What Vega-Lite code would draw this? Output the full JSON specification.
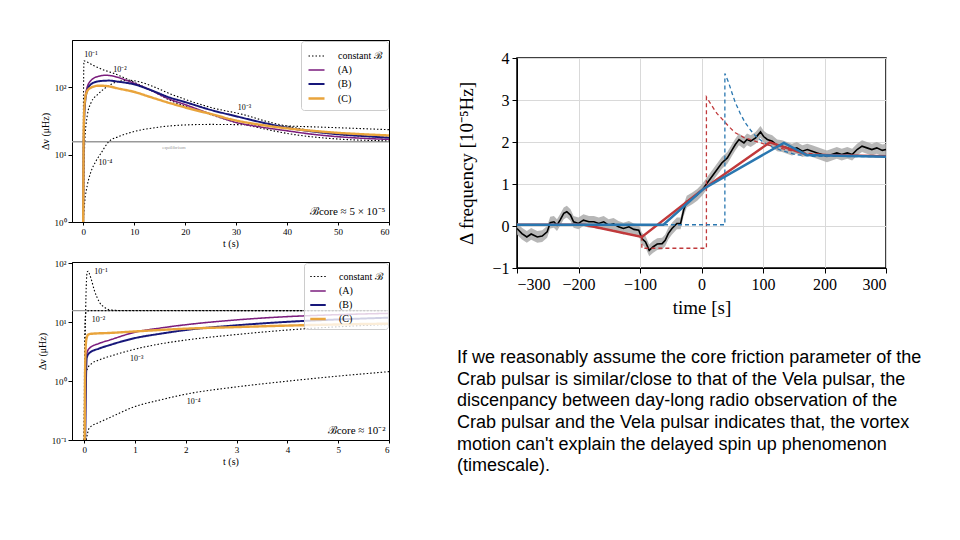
{
  "$schema": "https://vega.github.io/schema/vega-lite/v6.json",
  "background": "white",
  "padding": {"left": 36, "top": 39, "right": 0, "bottom": 0},
  "config": {
    "font": "Liberation Serif",
    "view": {"stroke": "black", "strokeWidth": 1},
    "axis": {"domainColor": "black", "tickColor": "black", "labelColor": "black", "titleColor": "black", "titleFontWeight": "normal", "labelOverlap": false}
  },
  "datasets": {
    "tl": [
      {"s":"constant ℬ","c":"b1","t":0,"v":1},{"s":"constant ℬ","c":"b1","t":0.05,"v":60},{"s":"constant ℬ","c":"b1","t":0.15,"v":245},{"s":"constant ℬ","c":"b1","t":0.5,"v":240},{"s":"constant ℬ","c":"b1","t":2,"v":210},{"s":"constant ℬ","c":"b1","t":4,"v":180},{"s":"constant ℬ","c":"b1","t":6,"v":160},{"s":"constant ℬ","c":"b1","t":8,"v":138},{"s":"constant ℬ","c":"b1","t":10,"v":118},{"s":"constant ℬ","c":"b1","t":13,"v":92},{"s":"constant ℬ","c":"b1","t":17,"v":64},{"s":"constant ℬ","c":"b1","t":20,"v":52},{"s":"constant ℬ","c":"b1","t":25,"v":39},{"s":"constant ℬ","c":"b1","t":30,"v":30},{"s":"constant ℬ","c":"b1","t":35,"v":24.5},{"s":"constant ℬ","c":"b1","t":41,"v":20},{"s":"constant ℬ","c":"b1","t":50,"v":17},{"s":"constant ℬ","c":"b1","t":60,"v":16},
      {"s":"constant ℬ","c":"b2","t":0,"v":1},{"s":"constant ℬ","c":"b2","t":0.3,"v":15},{"s":"constant ℬ","c":"b2","t":0.8,"v":38},{"s":"constant ℬ","c":"b2","t":1.5,"v":58},{"s":"constant ℬ","c":"b2","t":3,"v":80},{"s":"constant ℬ","c":"b2","t":5,"v":105},{"s":"constant ℬ","c":"b2","t":7,"v":122},{"s":"constant ℬ","c":"b2","t":9,"v":126},{"s":"constant ℬ","c":"b2","t":11,"v":120},{"s":"constant ℬ","c":"b2","t":14,"v":100},{"s":"constant ℬ","c":"b2","t":17,"v":80},{"s":"constant ℬ","c":"b2","t":20,"v":66},{"s":"constant ℬ","c":"b2","t":25,"v":50},{"s":"constant ℬ","c":"b2","t":31.5,"v":39},{"s":"constant ℬ","c":"b2","t":36,"v":31},{"s":"constant ℬ","c":"b2","t":41,"v":25.5},{"s":"constant ℬ","c":"b2","t":50,"v":20},{"s":"constant ℬ","c":"b2","t":60,"v":18},
      {"s":"constant ℬ","c":"b4","t":0,"v":1},{"s":"constant ℬ","c":"b4","t":0.3,"v":2},{"s":"constant ℬ","c":"b4","t":0.8,"v":3.5},{"s":"constant ℬ","c":"b4","t":1.5,"v":5.5},{"s":"constant ℬ","c":"b4","t":2.5,"v":8},{"s":"constant ℬ","c":"b4","t":3.5,"v":10.5},{"s":"constant ℬ","c":"b4","t":5,"v":15.5},{"s":"constant ℬ","c":"b4","t":7,"v":18.5},{"s":"constant ℬ","c":"b4","t":10,"v":22},{"s":"constant ℬ","c":"b4","t":14,"v":25},{"s":"constant ℬ","c":"b4","t":20,"v":27.5},{"s":"constant ℬ","c":"b4","t":25,"v":28},{"s":"constant ℬ","c":"b4","t":30,"v":27.8},{"s":"constant ℬ","c":"b4","t":40,"v":26.5},{"s":"constant ℬ","c":"b4","t":50,"v":25},{"s":"constant ℬ","c":"b4","t":60,"v":23.4},
      {"s":"(A)","c":"A","t":0,"v":1},{"s":"(A)","c":"A","t":0.1,"v":20},{"s":"(A)","c":"A","t":0.3,"v":60},{"s":"(A)","c":"A","t":0.7,"v":95},{"s":"(A)","c":"A","t":1.5,"v":125},{"s":"(A)","c":"A","t":3,"v":145},{"s":"(A)","c":"A","t":4.5,"v":150},{"s":"(A)","c":"A","t":6,"v":145},{"s":"(A)","c":"A","t":8,"v":130},{"s":"(A)","c":"A","t":10,"v":114},{"s":"(A)","c":"A","t":13,"v":92},{"s":"(A)","c":"A","t":17,"v":66},{"s":"(A)","c":"A","t":20,"v":55},{"s":"(A)","c":"A","t":25,"v":40},{"s":"(A)","c":"A","t":30,"v":30},{"s":"(A)","c":"A","t":35,"v":25.5},{"s":"(A)","c":"A","t":40,"v":22.5},{"s":"(A)","c":"A","t":45,"v":20},{"s":"(A)","c":"A","t":50,"v":18.4},{"s":"(A)","c":"A","t":55,"v":17.4},{"s":"(A)","c":"A","t":60,"v":16.8},
      {"s":"(B)","c":"B","t":0,"v":1},{"s":"(B)","c":"B","t":0.1,"v":15},{"s":"(B)","c":"B","t":0.3,"v":50},{"s":"(B)","c":"B","t":0.7,"v":85},{"s":"(B)","c":"B","t":1.5,"v":110},{"s":"(B)","c":"B","t":3,"v":122},{"s":"(B)","c":"B","t":5,"v":125},{"s":"(B)","c":"B","t":7,"v":120},{"s":"(B)","c":"B","t":10,"v":110},{"s":"(B)","c":"B","t":13,"v":92},{"s":"(B)","c":"B","t":17,"v":70},{"s":"(B)","c":"B","t":20,"v":60},{"s":"(B)","c":"B","t":25,"v":46},{"s":"(B)","c":"B","t":30,"v":37},{"s":"(B)","c":"B","t":35,"v":30},{"s":"(B)","c":"B","t":40,"v":25},{"s":"(B)","c":"B","t":45,"v":22},{"s":"(B)","c":"B","t":50,"v":20},{"s":"(B)","c":"B","t":55,"v":18.8},{"s":"(B)","c":"B","t":60,"v":17.8},
      {"s":"(C)","c":"C","t":0,"v":1},{"s":"(C)","c":"C","t":0.1,"v":25},{"s":"(C)","c":"C","t":0.3,"v":60},{"s":"(C)","c":"C","t":0.7,"v":85},{"s":"(C)","c":"C","t":1.5,"v":98},{"s":"(C)","c":"C","t":3,"v":105},{"s":"(C)","c":"C","t":4.5,"v":104},{"s":"(C)","c":"C","t":7,"v":95},{"s":"(C)","c":"C","t":10,"v":85},{"s":"(C)","c":"C","t":13,"v":72},{"s":"(C)","c":"C","t":17,"v":58},{"s":"(C)","c":"C","t":20,"v":50},{"s":"(C)","c":"C","t":25,"v":40},{"s":"(C)","c":"C","t":30,"v":32},{"s":"(C)","c":"C","t":35,"v":27.5},{"s":"(C)","c":"C","t":40,"v":24.5},{"s":"(C)","c":"C","t":45,"v":22.5},{"s":"(C)","c":"C","t":50,"v":21},{"s":"(C)","c":"C","t":55,"v":20},{"s":"(C)","c":"C","t":60,"v":19.2}
    ],
    "tlLab": [
      {"t":0.2,"v":300,"label":"10⁻¹"},
      {"t":5.9,"v":180,"label":"10⁻²"},
      {"t":30.3,"v":49,"label":"10⁻³"},
      {"t":3,"v":7.6,"label":"10⁻⁴"}
    ],
    "bl": [
      {"s":"constant ℬ","c":"b1","t":0,"v":0.1},{"s":"constant ℬ","c":"b1","t":0.02,"v":5},{"s":"constant ℬ","c":"b1","t":0.04,"v":40},{"s":"constant ℬ","c":"b1","t":0.06,"v":72},{"s":"constant ℬ","c":"b1","t":0.08,"v":74},{"s":"constant ℬ","c":"b1","t":0.1,"v":68},{"s":"constant ℬ","c":"b1","t":0.15,"v":50},{"s":"constant ℬ","c":"b1","t":0.2,"v":35},{"s":"constant ℬ","c":"b1","t":0.25,"v":27},{"s":"constant ℬ","c":"b1","t":0.3,"v":22},{"s":"constant ℬ","c":"b1","t":0.4,"v":18},{"s":"constant ℬ","c":"b1","t":0.5,"v":16.3},{"s":"constant ℬ","c":"b1","t":0.7,"v":15.9},{"s":"constant ℬ","c":"b1","t":6,"v":15.8},
      {"s":"constant ℬ","c":"b2","t":0,"v":0.1},{"s":"constant ℬ","c":"b2","t":0.005,"v":1},{"s":"constant ℬ","c":"b2","t":0.01,"v":5},{"s":"constant ℬ","c":"b2","t":0.02,"v":12},{"s":"constant ℬ","c":"b2","t":0.04,"v":15},{"s":"constant ℬ","c":"b2","t":0.1,"v":15.8},{"s":"constant ℬ","c":"b2","t":6,"v":15.8},
      {"s":"constant ℬ","c":"b3","t":0,"v":0.1},{"s":"constant ℬ","c":"b3","t":0.01,"v":0.5},{"s":"constant ℬ","c":"b3","t":0.03,"v":1.2},{"s":"constant ℬ","c":"b3","t":0.06,"v":1.6},{"s":"constant ℬ","c":"b3","t":0.15,"v":2},{"s":"constant ℬ","c":"b3","t":0.3,"v":2.3},{"s":"constant ℬ","c":"b3","t":0.6,"v":2.8},{"s":"constant ℬ","c":"b3","t":1,"v":3.5},{"s":"constant ℬ","c":"b3","t":1.5,"v":4.3},{"s":"constant ℬ","c":"b3","t":2,"v":5},{"s":"constant ℬ","c":"b3","t":3,"v":6.2},{"s":"constant ℬ","c":"b3","t":4,"v":7.4},{"s":"constant ℬ","c":"b3","t":5,"v":8.4},{"s":"constant ℬ","c":"b3","t":6,"v":9.2},
      {"s":"constant ℬ","c":"b4","t":0.04,"v":0.1},{"s":"constant ℬ","c":"b4","t":0.1,"v":0.16},{"s":"constant ℬ","c":"b4","t":0.3,"v":0.2},{"s":"constant ℬ","c":"b4","t":0.5,"v":0.24},{"s":"constant ℬ","c":"b4","t":1,"v":0.37},{"s":"constant ℬ","c":"b4","t":1.5,"v":0.48},{"s":"constant ℬ","c":"b4","t":2,"v":0.6},{"s":"constant ℬ","c":"b4","t":3,"v":0.8},{"s":"constant ℬ","c":"b4","t":4,"v":1.0},{"s":"constant ℬ","c":"b4","t":5,"v":1.22},{"s":"constant ℬ","c":"b4","t":6,"v":1.45},
      {"s":"(A)","c":"A","t":0.02,"v":0.1},{"s":"(A)","c":"A","t":0.03,"v":1},{"s":"(A)","c":"A","t":0.045,"v":2.8},{"s":"(A)","c":"A","t":0.1,"v":3.6},{"s":"(A)","c":"A","t":0.3,"v":4.4},{"s":"(A)","c":"A","t":0.5,"v":5},{"s":"(A)","c":"A","t":1,"v":6.8},{"s":"(A)","c":"A","t":1.5,"v":8},{"s":"(A)","c":"A","t":2,"v":9.1},{"s":"(A)","c":"A","t":3,"v":11},{"s":"(A)","c":"A","t":4,"v":12.5},{"s":"(A)","c":"A","t":5,"v":13.5},{"s":"(A)","c":"A","t":6,"v":14.2},
      {"s":"(B)","c":"B","t":0.02,"v":0.1},{"s":"(B)","c":"B","t":0.035,"v":1},{"s":"(B)","c":"B","t":0.05,"v":2.5},{"s":"(B)","c":"B","t":0.1,"v":3},{"s":"(B)","c":"B","t":0.3,"v":3.6},{"s":"(B)","c":"B","t":0.5,"v":4.1},{"s":"(B)","c":"B","t":1,"v":5.4},{"s":"(B)","c":"B","t":1.5,"v":6.4},{"s":"(B)","c":"B","t":2,"v":7.4},{"s":"(B)","c":"B","t":3,"v":8.9},{"s":"(B)","c":"B","t":4,"v":10.2},{"s":"(B)","c":"B","t":5,"v":11.2},{"s":"(B)","c":"B","t":6,"v":12},
      {"s":"(C)","c":"C","t":0.01,"v":0.1},{"s":"(C)","c":"C","t":0.02,"v":2},{"s":"(C)","c":"C","t":0.04,"v":5},{"s":"(C)","c":"C","t":0.08,"v":6.2},{"s":"(C)","c":"C","t":0.15,"v":6.4},{"s":"(C)","c":"C","t":0.5,"v":6.6},{"s":"(C)","c":"C","t":1,"v":7},{"s":"(C)","c":"C","t":2,"v":7.8},{"s":"(C)","c":"C","t":3,"v":8.3},{"s":"(C)","c":"C","t":4,"v":8.8},{"s":"(C)","c":"C","t":5,"v":9.2},{"s":"(C)","c":"C","t":6,"v":9.5}
    ],
    "blLab": [
      {"t":0.2,"v":72,"label":"10⁻¹"},
      {"t":0.15,"v":11,"label":"10⁻²"},
      {"t":0.9,"v":2.4,"label":"10⁻³"},
      {"t":2.02,"v":0.44,"label":"10⁻⁴"}
    ],
    "vela": [
      {"t":-300,"v":-0.06,"lo":-0.2,"hi":0.08},{"t":-292,"v":-0.18,"lo":-0.32,"hi":-0.04},{"t":-284,"v":-0.26,"lo":-0.4,"hi":-0.12},{"t":-277,"v":-0.19,"lo":-0.33,"hi":-0.05},{"t":-267,"v":-0.26,"lo":-0.4,"hi":-0.12},{"t":-259,"v":-0.24,"lo":-0.38,"hi":-0.1},{"t":-251,"v":-0.14,"lo":-0.28,"hi":0},{"t":-246,"v":0.08,"lo":-0.06,"hi":0.22},{"t":-240,"v":0.1,"lo":-0.04,"hi":0.24},{"t":-235,"v":0.02,"lo":-0.12,"hi":0.16},{"t":-230,"v":0.14,"lo":0,"hi":0.28},{"t":-224,"v":0.3,"lo":0.16,"hi":0.44},{"t":-219,"v":0.34,"lo":0.2,"hi":0.48},{"t":-213,"v":0.26,"lo":0.12,"hi":0.4},{"t":-208,"v":0.1,"lo":-0.04,"hi":0.24},{"t":-200,"v":0.06,"lo":-0.08,"hi":0.2},{"t":-192,"v":0.14,"lo":0,"hi":0.28},{"t":-183,"v":0.1,"lo":-0.04,"hi":0.24},{"t":-175,"v":0.1,"lo":-0.04,"hi":0.24},{"t":-167,"v":0.06,"lo":-0.08,"hi":0.2},{"t":-159,"v":0.1,"lo":-0.04,"hi":0.24},{"t":-151,"v":0.02,"lo":-0.12,"hi":0.16},{"t":-143,"v":0.05,"lo":-0.09,"hi":0.19},{"t":-135,"v":-0.02,"lo":-0.16,"hi":0.12},{"t":-127,"v":-0.06,"lo":-0.2,"hi":0.08},{"t":-118,"v":-0.02,"lo":-0.16,"hi":0.12},{"t":-110,"v":-0.08,"lo":-0.22,"hi":0.06},{"t":-102,"v":-0.1,"lo":-0.24,"hi":0.04},{"t":-97,"v":-0.3,"lo":-0.44,"hi":-0.16},{"t":-91,"v":-0.38,"lo":-0.52,"hi":-0.24},{"t":-85,"v":-0.58,"lo":-0.72,"hi":-0.44},{"t":-79,"v":-0.5,"lo":-0.64,"hi":-0.36},{"t":-72,"v":-0.43,"lo":-0.57,"hi":-0.29},{"t":-64,"v":-0.42,"lo":-0.56,"hi":-0.28},{"t":-59,"v":-0.34,"lo":-0.48,"hi":-0.2},{"t":-54,"v":-0.18,"lo":-0.32,"hi":-0.04},{"t":-48,"v":-0.06,"lo":-0.2,"hi":0.08},{"t":-40,"v":0.06,"lo":-0.08,"hi":0.2},{"t":-34,"v":0.06,"lo":-0.08,"hi":0.2},{"t":-29,"v":0.38,"lo":0.24,"hi":0.52},{"t":-24,"v":0.58,"lo":0.44,"hi":0.72},{"t":-15,"v":0.66,"lo":0.52,"hi":0.8},{"t":-7,"v":0.74,"lo":0.6,"hi":0.88},{"t":1,"v":0.86,"lo":0.72,"hi":1},{"t":9,"v":1.02,"lo":0.88,"hi":1.16},{"t":17,"v":1.18,"lo":1.04,"hi":1.32},{"t":25,"v":1.34,"lo":1.2,"hi":1.48},{"t":33,"v":1.5,"lo":1.36,"hi":1.64},{"t":42,"v":1.62,"lo":1.48,"hi":1.76},{"t":50,"v":1.82,"lo":1.68,"hi":1.96},{"t":55,"v":1.94,"lo":1.8,"hi":2.08},{"t":61,"v":2.06,"lo":1.92,"hi":2.2},{"t":69,"v":1.98,"lo":1.84,"hi":2.12},{"t":74,"v":2.06,"lo":1.92,"hi":2.2},{"t":80,"v":2.02,"lo":1.88,"hi":2.16},{"t":88,"v":2.1,"lo":1.96,"hi":2.24},{"t":96,"v":2.24,"lo":2.1,"hi":2.38},{"t":101,"v":2.13,"lo":1.99,"hi":2.27},{"t":107,"v":2.06,"lo":1.92,"hi":2.2},{"t":115,"v":2.02,"lo":1.88,"hi":2.16},{"t":123,"v":1.92,"lo":1.78,"hi":2.06},{"t":131,"v":1.9,"lo":1.76,"hi":2.04},{"t":139,"v":1.86,"lo":1.72,"hi":2},{"t":147,"v":1.82,"lo":1.68,"hi":1.96},{"t":155,"v":1.86,"lo":1.72,"hi":2},{"t":164,"v":1.78,"lo":1.64,"hi":1.92},{"t":172,"v":1.82,"lo":1.68,"hi":1.96},{"t":180,"v":1.78,"lo":1.64,"hi":1.92},{"t":188,"v":1.74,"lo":1.6,"hi":1.88},{"t":196,"v":1.7,"lo":1.56,"hi":1.84},{"t":204,"v":1.66,"lo":1.52,"hi":1.8},{"t":212,"v":1.7,"lo":1.56,"hi":1.84},{"t":220,"v":1.74,"lo":1.6,"hi":1.88},{"t":228,"v":1.7,"lo":1.56,"hi":1.84},{"t":237,"v":1.74,"lo":1.6,"hi":1.88},{"t":245,"v":1.7,"lo":1.56,"hi":1.84},{"t":253,"v":1.82,"lo":1.68,"hi":1.96},{"t":261,"v":1.9,"lo":1.76,"hi":2.04},{"t":269,"v":1.86,"lo":1.72,"hi":2},{"t":277,"v":1.82,"lo":1.68,"hi":1.96},{"t":285,"v":1.86,"lo":1.72,"hi":2},{"t":294,"v":1.8,"lo":1.66,"hi":1.94},{"t":300,"v":1.82,"lo":1.68,"hi":1.96}
    ],
    "models": [
      {"m":"red","k":"dashed","i":1,"t":-300,"v":0.03},{"m":"red","k":"dashed","i":2,"t":-190,"v":0.03},{"m":"red","k":"dashed","i":3,"t":-97,"v":-0.26},{"m":"red","k":"dashed","i":4,"t":-97,"v":-0.53},{"m":"red","k":"dashed","i":5,"t":8,"v":-0.53},{"m":"red","k":"dashed","i":6,"t":8,"v":3.07},{"m":"red","k":"dashed","i":7,"t":17,"v":2.86},{"m":"red","k":"dashed","i":8,"t":25,"v":2.68},{"m":"red","k":"dashed","i":9,"t":34,"v":2.54},{"m":"red","k":"dashed","i":10,"t":45,"v":2.36},{"m":"red","k":"dashed","i":11,"t":55,"v":2.22},{"m":"red","k":"dashed","i":12,"t":70,"v":2.1},{"m":"red","k":"dashed","i":13,"t":85,"v":2.03},{"m":"red","k":"dashed","i":14,"t":100,"v":1.96},{"m":"red","k":"dashed","i":15,"t":125,"v":1.86},{"m":"red","k":"dashed","i":16,"t":150,"v":1.78},{"m":"red","k":"dashed","i":17,"t":180,"v":1.72},{"m":"red","k":"dashed","i":18,"t":220,"v":1.68},{"m":"red","k":"dashed","i":19,"t":300,"v":1.66},
      {"m":"blue","k":"dashed","i":1,"t":-300,"v":0.03},{"m":"blue","k":"dashed","i":2,"t":38,"v":0.03},{"m":"blue","k":"dashed","i":3,"t":38,"v":3.63},{"m":"blue","k":"dashed","i":4,"t":44,"v":3.42},{"m":"blue","k":"dashed","i":5,"t":50,"v":3.15},{"m":"blue","k":"dashed","i":6,"t":55,"v":2.94},{"m":"blue","k":"dashed","i":7,"t":63,"v":2.68},{"m":"blue","k":"dashed","i":8,"t":71,"v":2.46},{"m":"blue","k":"dashed","i":9,"t":80,"v":2.28},{"m":"blue","k":"dashed","i":10,"t":88,"v":2.14},{"m":"blue","k":"dashed","i":11,"t":100,"v":2},{"m":"blue","k":"dashed","i":12,"t":115,"v":1.88},{"m":"blue","k":"dashed","i":13,"t":130,"v":1.8},{"m":"blue","k":"dashed","i":14,"t":153,"v":1.7},{"m":"blue","k":"dashed","i":15,"t":180,"v":1.66},{"m":"blue","k":"dashed","i":16,"t":300,"v":1.65},
      {"m":"red","k":"fit","i":1,"t":-300,"v":0.03},{"m":"red","k":"fit","i":2,"t":-190,"v":0.03},{"m":"red","k":"fit","i":3,"t":-97,"v":-0.26},{"m":"red","k":"fit","i":4,"t":3,"v":0.88},{"m":"red","k":"fit","i":5,"t":111,"v":1.99},{"m":"red","k":"fit","i":6,"t":171,"v":1.7},{"m":"red","k":"fit","i":7,"t":300,"v":1.66},
      {"m":"blue","k":"fit","i":1,"t":-300,"v":0.03},{"m":"blue","k":"fit","i":2,"t":-62,"v":0.03},{"m":"blue","k":"fit","i":3,"t":3,"v":0.88},{"m":"blue","k":"fit","i":4,"t":134,"v":1.98},{"m":"blue","k":"fit","i":5,"t":171,"v":1.69},{"m":"blue","k":"fit","i":6,"t":300,"v":1.65}
    ],
    "note": [
      {"line":1,"text":"If we reasonably assume the core friction parameter of the"},
      {"line":2,"text":"Crab pulsar is similar/close to that of the Vela pulsar, the"},
      {"line":3,"text":"discenpancy between day-long radio observation of the"},
      {"line":4,"text":"Crab pulsar and the Vela pulsar indicates that, the vortex"},
      {"line":5,"text":"motion can't explain the delayed spin up phenomenon"},
      {"line":6,"text":"(timescale)."}
    ]
  },
  "spacing": 66,
  "resolve": {"scale": {"color": "independent", "strokeDash": "independent", "strokeWidth": "independent"}, "legend": {"color": "independent", "strokeDash": "independent", "strokeWidth": "independent"}},
  "hconcat": [
    {
      "spacing": 9,
      "resolve": {"scale": {"color": "independent", "strokeDash": "independent", "strokeWidth": "independent"}, "legend": {"color": "independent", "strokeDash": "independent", "strokeWidth": "independent"}},
      "vconcat": [
        {
          "width": 317, "height": 182,
          "layer": [
            {"data": {"values": [{}]}, "mark": {"type": "rule", "color": "#999999", "strokeWidth": 1.5}, "encoding": {"y": {"datum": 15.5, "type": "quantitative"}}},
            {"data": {"values": [{"t": 15.5, "v": 13, "label": "equilibrium"}]}, "mark": {"type": "text", "align": "left", "baseline": "middle", "fontSize": 5, "color": "#999999"}, "encoding": {"x": {"field": "t", "type": "quantitative"}, "y": {"field": "v", "type": "quantitative"}, "text": {"field": "label"}}},
            {
              "data": {"name": "tl"},
              "mark": {"type": "line", "clip": true, "interpolate": "monotone"},
              "encoding": {
                "x": {"field": "t", "type": "quantitative", "scale": {"domain": [-2.2, 60], "nice": false, "zero": false},
                      "axis": {"title": "t (s)", "values": [0,10,20,30,40,50,60], "labelFontSize": 9, "titleFontSize": 10, "tickSize": 3, "titlePadding": 2, "labelPadding": 2, "grid": false, "labelOverlap": false}},
                "y": {"field": "v", "type": "quantitative", "scale": {"type": "log", "domain": [1, 500], "nice": false},
                      "axis": {"title": "Δν (μHz)", "grid": false, "titleFontSize": 10, "labelFontSize": 9, "labelPadding": 2, "titlePadding": 4, "labelOverlap": false,
                               "values": [1,10,100],
                               "tickSize": 4,
                               "labelExpr": "datum.value == 100 ? '10²' : datum.value == 10 ? '10¹' : datum.value == 1 ? '10⁰' : ''"}},
                "color": {"field": "s", "type": "nominal", "scale": {"domain": ["constant ℬ", "(A)", "(B)", "(C)"], "range": ["#000000", "#7b1d7d", "#17177a", "#e9a43c"]},
                          "legend": {"title": null, "orient": "top-right", "offset": 1, "fillColor": "white", "strokeColor": "#cccccc", "cornerRadius": 3, "padding": 6, "labelFontSize": 10, "labelFont": "Liberation Serif", "labelOffset": 12, "symbolType": "stroke", "symbolSize": 256, "rowPadding": 0}},
                "strokeDash": {"field": "s", "type": "nominal", "scale": {"domain": ["constant ℬ", "(A)", "(B)", "(C)"], "range": [[1.5, 2], [1, 0], [1, 0], [1, 0]]}},
                "strokeWidth": {"field": "s", "type": "nominal", "scale": {"domain": ["constant ℬ", "(A)", "(B)", "(C)"], "range": [1.1, 2.4, 1.7, 1.7]}},
                "detail": {"field": "c"}
              }
            },
            {"data": {"name": "tlLab"}, "mark": {"type": "text", "align": "left", "baseline": "middle", "fontSize": 8}, "encoding": {"x": {"field": "t", "type": "quantitative"}, "y": {"field": "v", "type": "quantitative"}, "text": {"field": "label"}}},
            {"data": {"values": [{"t": 59.3, "v": 1.4, "label": "ℬcore ≈ 5 × 10⁻⁵"}]}, "mark": {"type": "text", "align": "right", "baseline": "middle", "fontSize": 11}, "encoding": {"x": {"field": "t", "type": "quantitative"}, "y": {"field": "v", "type": "quantitative"}, "text": {"field": "label"}}}
          ]
        },
        {
          "width": 317, "height": 178,
          "layer": [
            {"data": {"values": [{}]}, "mark": {"type": "rule", "color": "#999999", "strokeWidth": 1.2}, "encoding": {"y": {"datum": 15.8, "type": "quantitative"}}},
            {
              "data": {"name": "bl"},
              "mark": {"type": "line", "clip": true, "interpolate": "monotone"},
              "encoding": {
                "x": {"field": "t", "type": "quantitative", "scale": {"domain": [-0.24, 6], "nice": false, "zero": false},
                      "axis": {"title": "t (s)", "values": [0,1,2,3,4,5,6], "labelFontSize": 9, "titleFontSize": 10, "tickSize": 3, "titlePadding": 2, "labelPadding": 2, "grid": false, "labelOverlap": false}},
                "y": {"field": "v", "type": "quantitative", "scale": {"type": "log", "domain": [0.1, 106], "nice": false},
                      "axis": {"title": "Δν (μHz)", "grid": false, "titleFontSize": 10, "labelFontSize": 9, "labelPadding": 2, "titlePadding": 4, "labelOverlap": false,
                               "values": [0.1,1,10,100],
                               "tickSize": 4,
                               "labelExpr": "datum.value == 100 ? '10²' : datum.value == 10 ? '10¹' : datum.value == 1 ? '10⁰' : datum.value == 0.1 ? '10⁻¹' : ''"}},
                "color": {"field": "s", "type": "nominal", "scale": {"domain": ["constant ℬ", "(A)", "(B)", "(C)"], "range": ["#000000", "#7b1d7d", "#17177a", "#e9a43c"]},
                          "legend": {"title": null, "orient": "top-right", "offset": 1, "fillColor": "rgba(255,255,255,0.8)", "strokeColor": "#cccccc", "cornerRadius": 3, "padding": 5, "labelFontSize": 10, "labelFont": "Liberation Serif", "labelOffset": 12, "symbolType": "stroke", "symbolSize": 240, "rowPadding": 0}},
                "strokeDash": {"field": "s", "type": "nominal", "scale": {"domain": ["constant ℬ", "(A)", "(B)", "(C)"], "range": [[1.5, 2], [1, 0], [1, 0], [1, 0]]}},
                "strokeWidth": {"field": "s", "type": "nominal", "scale": {"domain": ["constant ℬ", "(A)", "(B)", "(C)"], "range": [1.1, 2.4, 1.7, 2.4]}},
                "detail": {"field": "c"}
              }
            },
            {"data": {"name": "blLab"}, "mark": {"type": "text", "align": "left", "baseline": "middle", "fontSize": 8}, "encoding": {"x": {"field": "t", "type": "quantitative"}, "y": {"field": "v", "type": "quantitative"}, "text": {"field": "label"}}},
            {"data": {"values": [{"t": 5.93, "v": 0.14, "label": "ℬcore ≈ 10⁻²"}]}, "mark": {"type": "text", "align": "right", "baseline": "middle", "fontSize": 11}, "encoding": {"x": {"field": "t", "type": "quantitative"}, "y": {"field": "v", "type": "quantitative"}, "text": {"field": "label"}}}
          ]
        }
      ]
    },
    {
      "spacing": 0,
      "vconcat": [
        {
          "width": 10, "height": 8,
          "view": {"stroke": "transparent"},
          "data": {"values": [{}]},
          "mark": {"type": "point", "opacity": 0}
        },
        {
          "spacing": 30,
          "vconcat": [
            {
              "width": 369, "height": 210,
              "view": {"stroke": "black", "strokeWidth": 1.5},
              "layer": [
                {
                  "data": {"name": "vela"},
                  "mark": {"type": "area", "color": "#aaaaaa", "opacity": 0.85},
                  "encoding": {
                    "x": {"field": "t", "type": "quantitative", "scale": {"domain": [-300, 300], "nice": false},
                          "axis": {"title": "time [s]", "titleFontSize": 19, "labelFontSize": 16, "titlePadding": 6, "labelPadding": 3, "labelOverlap": false,
                                   "values": [-300,-200,-100,0,100,200,300], "gridColor": "#d9d9d9", "tickSize": 5}},
                    "y": {"field": "lo", "type": "quantitative", "scale": {"domain": [-1, 4], "nice": false},
                          "axis": {"title": "Δ frequency [10⁻⁵Hz]", "titleFontSize": 19, "labelFontSize": 16, "titlePadding": 15, "labelPadding": 3, "labelOverlap": false,
                                   "values": [-1,0,1,2,3,4], "gridColor": "#d9d9d9", "tickSize": 5}},
                    "y2": {"field": "hi"}
                  }
                },
                {"data": {"name": "vela"}, "mark": {"type": "line", "color": "black", "strokeWidth": 1.6}, "encoding": {"x": {"field": "t", "type": "quantitative"}, "y": {"field": "v", "type": "quantitative"}}},
                {
                  "data": {"name": "models"},
                  "transform": [{"filter": "datum.k == 'dashed'"}],
                  "mark": {"type": "line", "strokeWidth": 1.3, "strokeDash": [4, 3]},
                  "encoding": {
                    "x": {"field": "t", "type": "quantitative"}, "y": {"field": "v", "type": "quantitative"},
                    "color": {"field": "m", "type": "nominal", "scale": {"domain": ["red", "blue"], "range": ["#c0393b", "#2a77b0"]}, "legend": null},
                    "order": {"field": "i"}
                  }
                },
                {
                  "data": {"name": "models"},
                  "transform": [{"filter": "datum.k == 'fit'"}],
                  "mark": {"type": "line", "strokeWidth": 2.4},
                  "encoding": {
                    "x": {"field": "t", "type": "quantitative"}, "y": {"field": "v", "type": "quantitative"},
                    "color": {"field": "m", "type": "nominal", "scale": {"domain": ["red", "blue"], "range": ["#c0393b", "#2a77b0"]}, "legend": null},
                    "order": {"field": "i"}
                  }
                }
              ]
            },
            {
              "width": 470, "height": 130,
              "view": {"stroke": null},
              "data": {"name": "note"},
              "mark": {"type": "text", "align": "left", "baseline": "alphabetic", "font": "Liberation Sans", "fontSize": 18, "color": "black", "dx": -60},
              "encoding": {
                "x": {"datum": 0, "type": "quantitative", "scale": {"domain": [0, 1]}, "axis": null},
                "y": {"field": "line", "type": "quantitative", "scale": {"domain": [0.5, 6.5], "reverse": true, "nice": false, "zero": false}, "axis": null},
                "text": {"field": "text"}
              }
            }
          ]
        }
      ]
    }
  ]
}
